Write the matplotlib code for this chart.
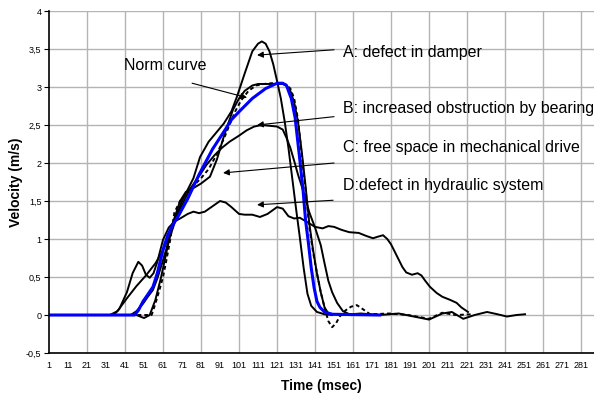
import matplotlib
matplotlib.use("Agg")
import matplotlib.pyplot as plt
import numpy as np

plt.rcParams["font.family"] = ["Liberation Sans", "DejaVu Sans"]

# --- data (time in msec, velocity in m/s) ---
t_norm = [1, 30, 46, 48, 50.5, 53, 55.7, 58, 61, 63.5, 66, 69, 74, 80, 87, 94, 97, 102,
          108, 115, 121, 124, 126, 127, 128.5, 130.5, 133, 134.7, 136, 137.5, 139, 140.5,
          142, 143.6, 146, 150, 175]
v_norm = [0, 0, 0, 0.06, 0.18, 0.27, 0.37, 0.55, 0.86, 1.05, 1.18, 1.3, 1.53, 1.85, 2.18,
          2.45, 2.57, 2.7, 2.85, 2.98, 3.05, 3.05, 3.02, 2.95, 2.85, 2.6, 2.04, 1.64, 1.25,
          0.95, 0.62, 0.36, 0.18, 0.1, 0.04, 0.01, 0]

t_a = [1, 33, 37, 42, 47, 52, 57, 61, 65, 68, 71, 74, 77, 80.5, 85, 89, 93, 97, 100, 104,
       108, 111, 113, 115, 117, 119, 121, 123, 125, 127, 129, 131, 133, 135, 137, 139, 142,
       146, 150]
v_a = [0, 0, 0.05, 0.22, 0.38, 0.52, 0.68, 0.85, 1.08, 1.3, 1.5, 1.65, 1.8, 2.08, 2.28,
       2.4, 2.52, 2.68, 2.88, 3.18, 3.47, 3.57, 3.6, 3.57, 3.47, 3.3, 3.08, 2.85, 2.55, 2.2,
       1.8, 1.4, 1.02, 0.62, 0.28, 0.12, 0.04, 0.01, 0]

t_b = [1, 44, 47, 50.5, 53, 55.7, 58, 61, 64, 68, 72, 75, 80, 84, 88, 92, 96, 101, 105,
       109, 113, 117, 121, 124, 126, 128, 130, 132, 134.7, 138, 141, 144, 146, 148, 150,
       152.6, 155.7, 160]
v_b = [0, 0, 0.05, 0.15, 0.24, 0.33, 0.48, 0.72, 0.98, 1.28, 1.5, 1.65, 1.83, 1.98, 2.1,
       2.2, 2.28, 2.36, 2.43, 2.48, 2.5, 2.49, 2.48, 2.44, 2.33, 2.2, 2.03, 1.85, 1.64,
       1.35, 1.15, 0.92, 0.68, 0.45, 0.3, 0.16, 0.05, 0]

t_c = [1, 47, 51, 54, 57, 60, 63, 66, 70, 73, 77, 81, 85.7, 89.4, 93, 97.8, 101, 104, 108,
       111, 118, 124, 126, 128, 130, 132, 134, 136, 138, 140, 142, 144, 146, 148, 155, 165,
       175, 185, 195, 201, 208, 213, 219, 225, 231.5, 237, 242, 247, 251.5]
v_c = [0, 0, -0.04, 0, 0.2, 0.5, 0.85, 1.2, 1.5, 1.62, 1.67, 1.73, 1.82, 2.05, 2.35, 2.7,
       2.85, 2.95, 3.02, 3.04, 3.04, 3.04, 3.02, 2.95, 2.8, 2.55, 2.15, 1.7, 1.2, 0.85,
       0.55, 0.3, 0.1, 0.02, 0, 0.02, 0, 0.02, -0.03, -0.06, 0.02, 0.04, -0.05, 0,
       0.04, 0.01, -0.02, 0, 0.01]

t_dash = [1, 47, 55, 57, 59, 61, 63, 65, 67, 70, 73, 77, 81, 85, 89, 93, 96, 99, 102, 106,
          110, 114, 118, 122, 126, 128, 130, 132, 134, 136, 138, 140, 142, 144, 146, 148,
          150, 152, 154, 157, 160, 163, 166, 170, 180, 190, 201, 208, 215, 224]
v_dash = [0, 0, 0, 0.15, 0.32, 0.5, 0.75, 1.02, 1.35, 1.5, 1.6, 1.7, 1.8, 1.92, 2.1, 2.32,
          2.5, 2.68, 2.82, 2.95, 3.02, 3.04, 3.05, 3.05, 3.03, 2.98, 2.85, 2.58, 2.1, 1.65,
          1.15, 0.82, 0.55, 0.3, 0.1, -0.08, -0.16, -0.11, -0.02, 0.06, 0.11, 0.13, 0.08,
          0.01, 0.02, 0.0, -0.05, 0.03, 0.0, 0.01]

t_d = [1, 35, 38, 42, 45, 48, 50, 52, 54, 56, 58, 61, 64, 67, 70, 74, 77, 80, 83, 87, 91,
       94, 97, 101, 104, 108, 112, 116, 121, 124, 127, 130, 133, 137, 141, 145, 148, 151,
       155, 159, 164, 168, 171.5, 174, 176.8, 179, 181, 184, 187, 189, 192, 195, 197, 199,
       201.5, 205, 208, 212, 215.5, 218, 221.5]
v_d = [0, 0, 0.08, 0.3, 0.55, 0.7, 0.65, 0.53, 0.49, 0.55, 0.7, 0.99, 1.15, 1.23, 1.27,
       1.33, 1.36, 1.34, 1.36, 1.43, 1.5, 1.48, 1.42, 1.33, 1.32, 1.32, 1.29, 1.33, 1.42,
       1.4, 1.3, 1.27, 1.28, 1.22, 1.16, 1.14, 1.17, 1.16, 1.12, 1.09, 1.08, 1.04, 1.01,
       1.03, 1.05, 1.0, 0.93, 0.78, 0.63, 0.56, 0.53, 0.55, 0.52, 0.45, 0.37, 0.29, 0.24,
       0.2, 0.16, 0.1, 0.04]

x_ticks = list(range(1, 282, 10))
x_grid = list(range(21, 282, 20))
y_ticks = [-0.5, 0, 0.5, 1, 1.5, 2, 2.5, 3, 3.5, 4]

labels = ["A: defect in damper", "B: increased obstruction by bearing",
          "C: free space in mechanical drive", "D:defect in hydraulic system"]
label_y = [3.46, 2.72, 2.21, 1.71]
arrow_from = [(151, 3.49), (151, 2.61), (151, 2.0), (150.5, 1.51)]
arrow_to = [(110.5, 3.42), (110.5, 2.5), (92.6, 1.87), (110.5, 1.45)]

# --- figure ---
fig = plt.figure(figsize=(5.94, 3.95), dpi=100)
ax = fig.add_axes([0.0825, 0.1063, 0.9175, 0.8658])

for yv in y_ticks:
    ax.axhline(yv, color="#b4b4b4", lw=1.0, zorder=0)
for xv in x_grid:
    ax.axvline(xv, color="#b4b4b4", lw=1.0, zorder=0)

ax.plot(t_a, v_a, color="black", lw=1.4)
ax.plot(t_b, v_b, color="black", lw=1.4)
ax.plot(t_c, v_c, color="black", lw=1.4)
ax.plot(t_d, v_d, color="black", lw=1.4)
ax.plot(t_dash, v_dash, color="black", lw=1.4, linestyle=(0, (2, 1.5)))
ax.plot(t_norm, v_norm, color="#0000ff", lw=2.2)

# annotations
ax.text(40.5, 3.28, "Norm curve", fontsize=11.5, va="center", ha="left")
ax.annotate("", xy=(105.2, 2.86), xytext=(76.3, 3.05),
            arrowprops=dict(arrowstyle="-|>", lw=0.8, color="black",
                            mutation_scale=9, shrinkA=0, shrinkB=0))
for lab, ly, a0, a1 in zip(labels, label_y, arrow_from, arrow_to):
    ax.text(155.7, ly, lab, fontsize=11.5, va="center", ha="left")
    ax.annotate("", xy=a1, xytext=a0,
                arrowprops=dict(arrowstyle="-|>", lw=0.8, color="black",
                                mutation_scale=9, shrinkA=0, shrinkB=0))

ax.set_xlim(1, 287.8)
ax.set_ylim(-0.5, 4)
ax.set_xticks(x_ticks)
ax.set_xticklabels([str(x) for x in x_ticks], fontsize=6.5)
ax.set_yticks(y_ticks)
ax.set_yticklabels([("%g" % y).replace(".", ",") for y in y_ticks], fontsize=6.5)
ax.tick_params(axis="x", length=0, pad=6)
ax.tick_params(axis="y", length=3.5, width=0.8, pad=2)

ax.spines["top"].set_visible(False)
ax.spines["right"].set_visible(False)
ax.spines["left"].set_linewidth(1.2)
ax.spines["bottom"].set_linewidth(1.2)

ax.set_xlabel("Time (msec)", fontsize=10, fontweight="bold", labelpad=6)
ax.set_ylabel("Velocity (m/s)", fontsize=10, fontweight="bold", labelpad=2)

fig.savefig("out.png", dpi=100)
